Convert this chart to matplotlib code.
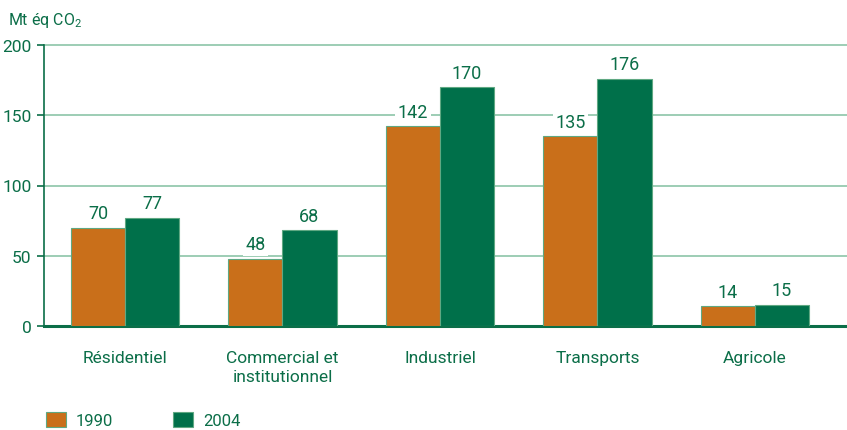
import numpy as np
import matplotlib
matplotlib.use('Agg')
import matplotlib.pyplot as plt

# %%
categories = ['Résidentiel', 'Commercial et\ninstitutionnel', 'Industriel', 'Transports', 'Agricole']
series_names = ['1990', '2004']
values_1990 = [70, 48, 142, 135, 14]
values_2004 = [77, 68, 170, 176, 15]
y_ticks = [0, 50, 100, 150, 200]

# %%
plt.rcParams['font.family'] = ['Roboto', 'DejaVu Sans']
plt.rcParams['mathtext.fontset'] = 'custom'
plt.rcParams['mathtext.rm'] = 'Roboto'

txt_col = '#0b6e48'
orange = '#c96f1a'
green = '#00704a'
grid_col = '#8cc5a8'

fig = plt.figure(figsize=(8.47, 4.31), dpi=100)
ax = fig.add_axes([44 / 847, 1 - 327 / 431, 1 - 44 / 847, (327 - 46) / 431])

x = np.arange(len(categories))
w = 0.343
b1 = ax.bar(x - w / 2, values_1990, w, color=orange, edgecolor='#5fa882', linewidth=0.8, label=series_names[0], zorder=3)
b2 = ax.bar(x + w / 2, values_2004, w, color=green, edgecolor='#5fa882', linewidth=0.8, label=series_names[1], zorder=3)

for bars, vals in [(b1, values_1990), (b2, values_2004)]:
    for r, v in zip(bars, vals):
        ax.annotate(str(v), (r.get_x() + r.get_width() / 2, r.get_height()),
                    xytext=(0, 4), textcoords='offset points', ha='center', va='bottom',
                    fontsize=13, color=txt_col, zorder=4,
                    bbox=dict(boxstyle='square,pad=0.15', fc='white', ec='none'))

ax.set_xlim(-0.514, 4.584)
ax.set_ylim(0, 200)
ax.set_yticks(y_ticks)
ax.yaxis.grid(True, color=grid_col, linewidth=1.2, zorder=0)
for gl in ax.get_ygridlines():
    gl.set_clip_on(False)
ax.set_axisbelow(True)
ax.set_xticks(x)
ax.set_xticklabels(categories, fontsize=12.5, color=txt_col, linespacing=1.35)
ax.tick_params(axis='x', length=0, pad=17)
ax.tick_params(axis='y', length=5, width=1.2, color=txt_col, labelcolor=txt_col, labelsize=12.5, pad=4)
for s in ['top', 'right']:
    ax.spines[s].set_visible(False)
ax.spines['left'].set_color(txt_col)
ax.spines['left'].set_linewidth(1.2)
ax.spines['bottom'].set_color(txt_col)
ax.spines['bottom'].set_linewidth(2.2)

fig.text(8 / 847, 1 - 20 / 431, r'Mt éq CO$_2$', fontsize=11.5, color=txt_col, va='center', ha='left')

fig.legend(handles=[b1, b2], loc='lower left', bbox_to_anchor=(46 / 847, 0.005),
           ncol=2, frameon=False, borderpad=0, borderaxespad=0,
           handlelength=1.2, handleheight=1.0, handletextpad=0.6, columnspacing=3.6,
           prop={'size': 12}, labelcolor=txt_col)

fig.savefig('out.png', dpi=100)
